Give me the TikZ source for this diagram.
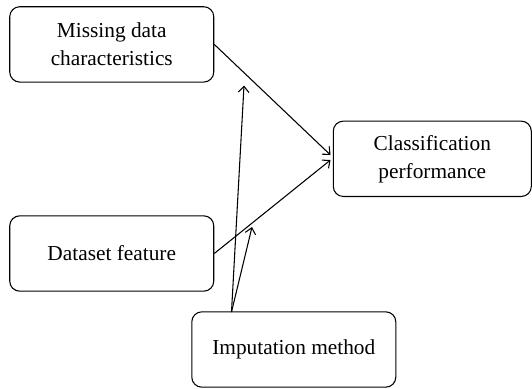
\documentclass[tikz,border=0pt]{standalone}
\usepackage{fontspec}
\setmainfont{Liberation Serif}
\usetikzlibrary{arrows.meta,calc}
\begin{document}
\begin{tikzpicture}[x=0.75pt,y=-0.75pt,
  box/.style={draw, line width=0.8pt, rounded corners=7.5pt, align=center,
    minimum width=153pt, minimum height=56.5pt, inner sep=0pt,
    font=\fontsize{16}{21}\selectfont},
  conn/.style={line width=0.8pt, -{Straight Barb[length=4.5pt,width=8pt,line width=0.8pt]}}]
\useasboundingbox (0,0) rectangle (532,389);
\node[box] (m) at (111.75,44.4) {Missing data\\characteristics};
\node[box, minimum width=148.5pt] (c) at (432.3,158.8) {Classification\\performance};
\node[box] (d) at (111.75,253.5) {Dataset feature};
\node[box] (i) at (293.8,349.5) {Imputation method};
\coordinate (ct1) at (330.5,155);
\coordinate (ct2) at (330.5,160);
\coordinate (is) at (231.5,312);
\coordinate (t1) at (244,85.5);
\coordinate (t2) at (252,227);
\draw[conn] (m.east) -- (ct1);
\draw[conn] (d.east) -- (ct2);
\draw[conn] (is) -- (t1);
\draw[conn] (is) -- (t2);
\end{tikzpicture}
\end{document}
